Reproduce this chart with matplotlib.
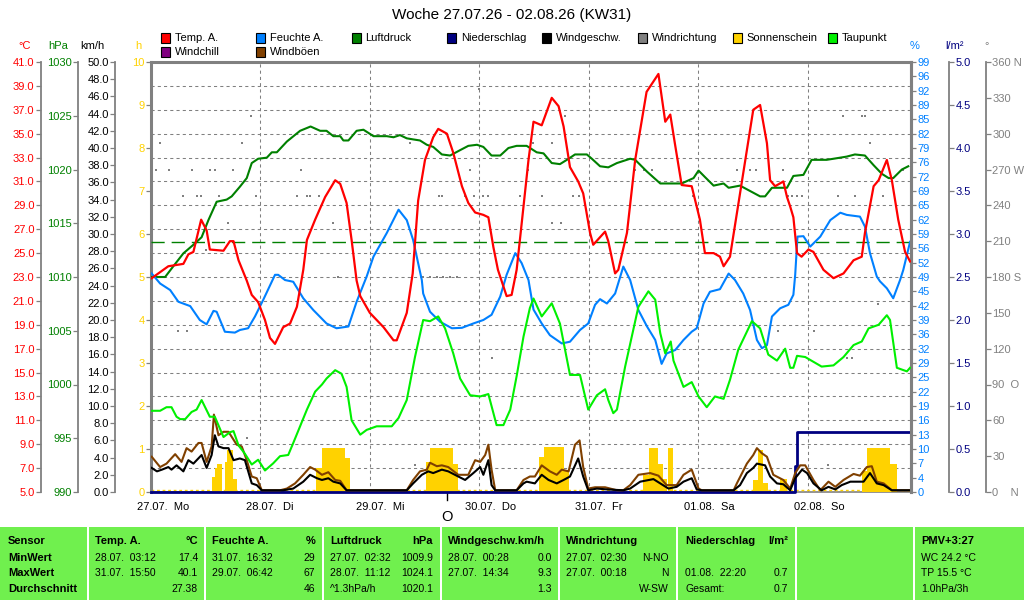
import matplotlib
matplotlib.use("Agg")
import matplotlib.pyplot as plt
import matplotlib.transforms as mtrans
from matplotlib.patches import Rectangle
import numpy as np

plt.rcParams['font.family'] = ['Liberation Sans', 'DejaVu Sans']

# Zeit in Stunden ab 27.07. 00:00
temp_t = [0.15, 3.8, 7.1, 8.2, 9.3, 11.0, 12.2, 12.9, 15.9, 17.3, 18.1, 19.2, 21.0, 22.1, 23.5, 25.0,
          26.1, 27.2, 29.0, 30.5, 32.0, 33.4, 34.2, 36.0, 38.2, 40.4, 41.5, 42.9, 44.0, 45.1, 45.9, 48.0,
          51.0, 53.2, 53.9, 56.1, 57.4, 58.6, 60.1, 61.9, 63.0, 64.9, 66.3, 68.2, 69.6, 71.1, 72.9, 74.0,
          75.1, 76.1, 78.0, 79.1, 80.2, 81.0, 82.8, 83.9, 85.7, 87.9, 89.4, 90.5, 91.9, 93.7, 94.8, 96.3,
          97.0, 99.6, 100.3, 101.8, 102.5, 104.4, 106.2, 108.7, 111.3, 112.8, 113.9, 114.9, 116.4, 118.6,
          120.4, 121.5, 123.4, 124.8, 125.6, 127.0, 129.2, 132.1, 133.6, 135.1, 135.8, 136.9, 138.7, 139.5,
          140.2, 140.9, 141.7, 142.7, 144.2, 145.3, 147.5, 149.7, 151.9, 154.1, 155.9, 156.6, 158.5, 159.6,
          161.4, 162.5, 163.9, 165.4, 166.5]
temp_v = [22.9, 23.9, 24.1, 24.9, 25.1, 27.8, 26.9, 25.3, 25.2, 26.0, 26.0, 24.4, 22.7, 21.5, 20.9, 19.4,
          17.9, 17.4, 18.8, 19.1, 20.5, 23.6, 26.1, 27.8, 29.7, 31.1, 30.8, 29.2, 26.1, 22.7, 21.4, 20.0,
          18.8, 17.7, 17.7, 20.0, 23.3, 29.4, 32.8, 34.7, 35.4, 35.0, 33.4, 30.6, 29.2, 28.4, 28.2, 28.0,
          25.5, 23.6, 21.4, 21.5, 23.6, 26.4, 32.8, 36.0, 35.7, 38.0, 37.3, 35.6, 32.2, 31.0, 30.0, 26.7,
          25.7, 26.8, 26.0, 23.3, 23.6, 26.7, 32.8, 38.5, 40.0, 36.0, 36.6, 34.2, 30.7, 30.6,
          27.8, 25.0, 25.0, 24.7, 23.9, 24.7, 30.0, 37.0, 37.4, 34.2, 31.1, 30.6, 31.0, 29.7,
          28.9, 28.0, 25.0, 24.7, 25.3, 25.1, 23.6, 22.9, 23.3, 24.4, 24.7, 26.7, 30.6, 31.1,
          32.8, 31.1, 27.8, 25.1, 24.3]

rh_t = [0.15, 2.0, 4.2, 6.0, 8.6, 10.7, 12.2, 13.7, 14.4, 16.2, 18.4, 19.5, 21.3, 22.8, 24.6, 27.2, 27.9,
        29.4, 31.2, 33.4, 35.6, 38.5, 40.7, 43.3, 45.1, 47.3, 48.8, 51.7, 54.3, 56.1, 57.5, 59.4, 59.7,
        61.2, 63.4, 66.0, 68.2, 70.7, 72.9, 74.7, 76.6, 78.0, 79.9, 81.3, 82.8, 83.9, 85.7, 87.5, 90.1,
        91.9, 94.1, 95.9, 97.4, 98.5, 100.0, 101.8, 103.6, 105.1, 106.9, 108.8, 110.6, 112.0, 113.1,
        115.0, 116.8, 118.6, 119.7, 121.2, 122.6, 124.8, 126.7, 128.1, 129.9, 131.4, 132.9, 134.0, 135.1,
        136.2, 138.0, 139.8, 140.9, 141.3, 141.8, 143.1, 144.6, 146.8, 149.0, 151.2, 152.6, 155.5, 156.6,
        157.7, 159.2, 159.9, 161.4, 162.8, 164.3, 165.0, 166.5]
rh_v = [50.3, 48.0, 46.5, 43.8, 42.8, 39.6, 38.6, 41.7, 41.5, 36.9, 36.7, 37.3, 37.7, 40.4, 44.2, 50.0, 50.0,
        48.8, 48.4, 44.6, 41.9, 38.8, 37.7, 38.1, 43.8, 49.6, 54.2, 59.6, 65.0, 62.6, 58.0, 48.8, 45.7,
        41.5, 39.2, 37.7, 37.8, 38.8, 39.6, 40.8, 45.0, 50.0, 55.0, 52.7, 48.8, 42.0, 38.8, 36.1, 34.2,
        34.6, 37.3, 38.8, 43.1, 44.4, 43.4, 45.7, 51.9, 48.8, 41.9, 38.1, 35.0, 29.5, 31.9,
        32.7, 35.0, 36.9, 37.7, 43.4, 46.1, 46.7, 50.3, 48.8, 45.7, 41.9, 35.0, 33.1, 33.8,
        40.4, 42.3, 43.1, 45.4, 50.0, 58.8, 58.9, 56.5, 58.8, 62.6, 64.3, 63.8, 63.4, 61.1,
        55.0, 49.6, 48.5, 46.9, 44.6, 48.8, 51.1, 57.6]

p_t = [0.15, 3.1, 4.9, 7.1, 9.3, 11.1, 12.6, 14.4, 16.6, 17.7, 19.5, 21.0, 22.1, 23.5, 25.4, 26.5, 27.6,
       29.8, 32.7, 35.0, 37.1, 38.5, 40.0, 41.5, 42.2, 43.3, 45.1, 46.6, 48.8, 51.7, 53.2, 54.6, 56.1,
       57.5, 59.0, 60.5, 61.9, 63.8, 65.6, 67.8, 69.6, 71.5, 72.9, 74.7, 76.6, 78.4, 80.2, 82.4, 84.6,
       86.1, 87.9, 89.7, 91.6, 93.0, 95.6, 96.7, 98.5, 100.3, 102.2, 105.1, 106.2, 108.8, 111.7, 113.1,
       116.4, 119.0, 120.1, 121.5, 123.4, 125.6, 126.7, 129.2, 131.4, 133.6, 134.7, 136.2, 139.5, 140.9,
       143.1, 144.9, 148.2, 149.7, 152.6, 154.4, 156.6, 158.5, 160.3, 161.8, 162.8, 164.7, 166.1]
p_v = [1010.0, 1010.0, 1011.0, 1012.2, 1013.0, 1013.7, 1015.3, 1017.0, 1017.2, 1017.5, 1018.4, 1019.2,
       1020.6, 1021.0, 1021.1, 1021.6, 1021.6, 1022.6, 1023.6, 1024.0, 1023.6, 1023.6, 1023.1, 1023.1,
       1022.7, 1022.7, 1023.6, 1023.7, 1023.1, 1023.1, 1023.0, 1023.2, 1022.9, 1022.8, 1022.7, 1022.3,
       1022.1, 1021.4, 1021.3, 1021.8, 1022.2, 1022.3, 1022.1, 1021.3, 1021.3, 1022.0, 1022.2, 1022.2,
       1021.6, 1021.5, 1020.6, 1020.5, 1021.0, 1021.4, 1021.4, 1021.0, 1020.3, 1020.2, 1020.6, 1021.0,
       1020.9, 1019.8, 1018.7, 1018.7, 1018.7, 1019.2, 1019.9, 1019.3, 1018.5, 1018.7, 1018.3, 1018.5,
       1018.0, 1017.5, 1017.5, 1018.3, 1018.3, 1019.4, 1019.5, 1020.9, 1020.9, 1021.0, 1021.2, 1021.4,
       1021.3, 1020.4, 1019.6, 1019.2, 1019.2, 1020.0, 1020.3]
p_norm = 1013.25

dp_t = [0.15, 2.0, 3.4, 4.5, 5.6, 6.4, 7.5, 8.9, 10.0, 11.1, 12.9, 14.0, 15.9, 17.3, 18.1, 19.2, 20.6,
        22.1, 23.5, 25.0, 26.8, 28.3, 30.1, 31.2, 32.7, 34.2, 36.0, 37.5, 38.5, 40.4, 41.8, 42.9, 44.0,
        45.9, 47.3, 49.5, 52.8, 54.3, 56.1, 57.9, 59.7, 61.2, 63.0, 64.5, 66.3, 67.8, 70.0, 72.2, 74.0,
        75.8, 77.3, 78.8, 80.2, 81.7, 83.1, 83.9, 85.7, 87.9, 89.7, 91.9, 94.1, 95.9, 97.8, 99.6, 100.3,
        101.4, 102.2, 104.0, 106.9, 109.1, 110.6, 111.7, 112.8, 114.0, 114.6, 116.8, 118.6, 120.1, 121.9,
        123.7, 125.6, 127.0, 128.8, 131.8, 133.6, 135.4, 137.3, 139.1, 140.2, 140.9, 141.7, 143.5, 147.1,
        149.7, 151.9, 154.1, 155.9, 157.4, 159.6, 161.4, 162.1, 163.6, 165.8, 166.5]
dp_v = [11.8, 11.8, 12.1, 12.1, 11.3, 11.1, 11.1, 11.7, 11.9, 12.7, 11.3, 11.3, 9.6, 10.0, 10.1, 8.9, 8.2,
        7.3, 7.7, 6.8, 7.4, 8.0, 8.1, 9.1, 10.5, 11.9, 13.4, 14.0, 14.5, 15.2, 14.9, 13.8, 11.0,
        9.8, 10.2, 10.5, 10.5, 11.2, 12.7, 16.3, 19.4, 19.3, 19.7, 18.7, 16.6, 14.5, 13.1, 13.0, 13.2,
        10.6, 10.6, 11.9, 14.7, 18.0, 20.4, 21.2, 19.7, 20.8, 19.1, 14.8, 14.8, 11.9, 13.1, 13.6, 12.7,
        11.6, 11.9, 15.5, 20.5, 21.8, 21.1, 18.3, 16.6, 17.6, 16.0, 13.8, 14.2, 13.0, 12.1,
        13.0, 12.8, 14.4, 16.9, 19.3, 18.7, 16.5, 16.0, 17.0, 15.4, 15.4, 16.4, 16.3, 15.5,
        15.6, 16.3, 17.3, 17.6, 18.7, 19.0, 19.8, 19.4, 15.4, 15.1, 15.4]

w_t = [0.15, 1.3, 2.4, 3.8, 4.5, 5.6, 7.1, 8.2, 9.3, 11.1, 12.2, 13.3, 14.0, 14.8, 15.9, 17.0, 18.1, 19.5,
       20.6, 22.1, 23.2, 24.3, 29.0, 31.2, 33.4, 34.9, 36.4, 37.5, 38.9, 40.0, 41.5, 42.9, 56.1, 57.5,
       59.4, 60.8, 61.9, 63.8, 65.2, 67.4, 68.9, 70.7, 72.2, 72.9, 74.0, 74.7, 75.5, 80.2, 81.7, 82.4,
       84.2, 85.7, 87.2, 89.0, 90.5, 91.9, 93.7, 94.8, 95.9, 97.8, 100.0, 103.6, 105.1, 107.3, 110.2,
       111.7, 113.5, 115.3, 116.8, 118.6, 119.7, 120.8, 127.8, 129.2, 130.7, 132.1, 132.9, 134.7, 135.8,
       137.3, 138.7, 140.2, 141.3, 142.8, 143.9, 145.3, 147.1, 148.6, 150.1, 151.5, 153.4, 156.3, 157.7,
       159.2, 160.7, 162.5, 166.5]
w_v = [2.8, 2.4, 2.6, 2.9, 2.6, 3.1, 2.4, 3.7, 3.3, 4.3, 2.8, 4.3, 6.6, 5.3, 5.1, 5.1, 3.7, 3.9,
       3.7, 1.0, 0.8, 0.2, 0.2, 0.4, 1.2, 2.0, 1.6, 1.4, 1.6, 1.2, 1.0, 0.2, 0.2, 1.0,
       2.0, 2.4, 2.2, 2.6, 2.4, 1.8, 1.4, 2.2, 2.9, 2.0, 3.7, 0.8, 0.2, 0.2, 1.0, 1.2,
       1.0, 2.0, 1.4, 1.0, 1.4, 1.8, 3.9, 1.8, 0.2, 0.4, 0.3, 0.2, 0.4, 1.2, 1.5,
       1.0, 0.4, 0.6, 1.2, 1.6, 0.3, 0.2, 0.2, 0.8, 2.2, 2.8, 3.3, 3.1, 1.8,
       1.0, 0.9, 0.2, 1.6, 2.6, 2.2, 1.0, 0.2, 0.6, 0.3, 0.8, 1.2, 1.2, 2.2,
       1.0, 0.8, 0.2, 0.2]

g_t = [0.15, 2.0, 3.4, 5.3, 6.7, 7.8, 8.9, 10.4, 11.1, 12.2, 13.3, 13.8, 14.8, 15.9, 17.0, 18.8, 19.9,
       21.0, 22.1, 23.2, 24.3, 28.3, 29.8, 31.6, 33.4, 34.9, 36.0, 37.5, 38.9, 40.4, 41.5, 42.9, 56.1,
       57.5, 59.0, 60.5, 61.2, 62.7, 63.8, 65.2, 67.4, 69.6, 71.1, 72.2, 73.3, 74.0, 74.7, 75.5, 80.2,
       81.7, 83.1, 84.2, 85.7, 87.5, 89.0, 90.1, 91.6, 93.0, 94.0, 94.8, 95.9, 97.4, 99.6, 102.2, 103.6,
       105.1, 106.9, 109.5, 111.3, 113.1, 115.3, 116.8, 118.6, 120.1, 120.8, 127.8, 128.5, 130.7, 132.1,
       132.9, 134.0, 135.1, 136.5, 138.7, 140.2, 141.3, 142.4, 143.5, 145.3, 146.8, 148.6, 150.1, 151.9,
       154.1, 155.5, 157.0, 158.1, 159.2, 160.7, 162.5, 166.5]
g_v = [4.1, 2.9, 3.3, 4.4, 3.5, 5.1, 4.7, 5.7, 5.7, 3.5, 5.3, 9.0, 6.6, 7.0, 7.0, 5.5, 5.3,
       3.7, 1.8, 1.6, 0.2, 0.2, 0.4, 1.0, 2.0, 2.9, 2.6, 2.0, 2.3, 1.4, 1.3, 0.2, 0.2,
       1.4, 2.4, 2.6, 3.4, 3.0, 3.1, 2.9, 2.0, 2.0, 3.7, 3.5, 4.3, 5.5, 2.6, 0.2, 0.2,
       1.4, 1.8, 1.8, 3.1, 2.4, 2.0, 2.6, 2.4, 5.5, 6.0, 2.9, 0.4, 0.55, 0.55, 0.2, 0.2,
       0.8, 2.0, 2.2, 1.9, 0.8, 0.8, 2.0, 2.6, 0.4, 0.2, 0.2, 1.0, 3.3, 4.3,
       5.1, 4.5, 4.1, 2.0, 1.4, 0.4, 2.2, 3.1, 3.1, 1.4, 0.2, 1.2, 0.6, 1.4,
       2.1, 1.9, 2.9, 3.0, 1.2, 1.0, 0.2, 0.2]

sun_start = [13.4, 14.0, 14.4, 16.2, 16.7, 18.0, 36.2, 37.4, 42.6, 60.3, 61.2, 66.3, 85.0, 86.1, 90.5,
             108.0, 109.3, 111.3, 112.4, 113.3, 132.1, 133.2, 134.3, 138.0, 155.9, 157.0, 162.1]
sun_end = [14.0, 14.4, 15.5, 16.7, 18.0, 18.8, 37.4, 42.6, 43.7, 61.2, 66.3, 67.4, 86.1, 90.5, 91.6,
           109.3, 111.3, 112.4, 113.1, 114.5, 133.2, 134.3, 135.4, 139.5, 157.0, 162.1, 163.6]
sun_val = [0.36, 0.55, 0.64, 0.7, 0.98, 0.3, 0.55, 1.02, 0.8, 0.7, 1.02, 0.66, 0.82, 1.04, 0.5,
           0.4, 1.02, 0.66, 0.3, 1.02, 0.28, 0.98, 0.2, 0.3, 0.5, 1.02, 0.66]

rain_t = [0.0, 141.3, 141.8, 166.7]
rain_v = [0.0, 0.3, 0.7, 0.7]

dir_t = [1.0, 2.0, 4.0, 5.9, 7.0, 7.8, 8.9, 10.1, 11.0, 12.1, 12.9, 14.0, 14.9, 16.9, 17.9, 19.9, 21.0,
         21.9, 23.0, 32.0, 32.9, 34.2, 34.9, 36.9, 39.9, 41.0, 56.8, 57.9, 59.7, 61.2, 62.7, 64.1, 65.6,
         67.1, 63.2, 63.8, 68.9, 70.0, 70.9, 72.0, 72.9, 74.0, 74.7, 81.0, 82.6, 83.8, 85.7, 87.9, 87.9,
         89.9, 90.8, 92.6, 93.9, 106.2, 108.2, 110.0, 118.8, 128.6, 131.4, 132.7, 137.6, 138.7, 139.8,
         140.6, 141.7, 142.8, 145.5, 148.5, 150.7, 151.8, 152.6, 153.7, 154.4, 155.9, 156.6, 157.7,
         159.5, 160.6, 165.0]
dir_v = [270, 292.5, 270, 135, 247.5, 135, 270, 247.5, 247.5, 202.5, 270, 270, 247.5, 225, 270, 292.5, 45,
         315, 247.5, 247.5, 270, 247.5, 247.5, 247.5, 225, 180, 292.5, 22.5, 180, 180, 180, 180, 180,
         180, 247.5, 247.5, 247.5, 270, 247.5, 337.5, 247.5, 247.5, 112.5, 247.5, 270, 292.5, 247.5,
         292.5, 225, 225, 315, 247.5, 247.5, 270, 270, 270, 247.5, 270, 270, 270, 135, 270, 247.5,
         247.5, 247.5, 247.5, 135, 22.5, 247.5, 315, 112.5, 112.5, 247.5, 315, 315, 292.5,
         157.5, 247.5, 270]

moon_t = 64.9

day_ticks = [0, 24, 48, 72, 96, 120, 144]
day_labels = ['27.07.  Mo', '28.07.  Di', '29.07.  Mi', '30.07.  Do', '31.07.  Fr', '01.08.  Sa', '02.08.  So']

rh_labels = ['0', '4', '7', '10', '13', '16', '19', '22', '25', '29', '32', '36', '39', '42', '45', '49',
             '52', '56', '59', '62', '65', '69', '72', '76', '79', '82', '85', '89', '92', '96', '99']
dir_labels = ['0    N', '30', '60', '90  O', '120', '150', '180 S', '210', '240', '270 W', '300', '330', '360 N']

legend_names = ['Temp. A.', 'Feuchte A.', 'Luftdruck', 'Niederschlag', 'Windgeschw.', 'Windrichtung',
                'Sonnenschein', 'Taupunkt', 'Windchill', 'Windböen']

table_first = ['Sensor', 'MinWert', 'MaxWert', 'Durchschnitt']
table_heads = [('Temp. A.', '°C'), ('Feuchte A.', '%'), ('Luftdruck', 'hPa'),
               ('Windgeschw.km/h', ''), ('Windrichtung', ''), ('Niederschlag', 'l/m²')]
table_dates = [['28.07.  03:12', '31.07.  15:50', ''], ['31.07.  16:32', '29.07.  06:42', ''],
               ['27.07.  02:32', '28.07.  11:12', '^1.3hPa/h'], ['28.07.  00:28', '27.07.  14:34', ''],
               ['27.07.  02:30', '27.07.  00:18', ''], ['', '01.08.  22:20', 'Gesamt:']]
table_vals = [['17.4', '40.1', '27.38'], ['29', '67', '46'], ['1009.9', '1024.1', '1020.1'],
              ['0.0', '9.3', '1.3'], ['N-NO', 'N', 'W-SW'], ['', '0.7', '0.7']]
table_last = ['PMV+3:27', 'WC 24.2 °C', 'TP 15.5 °C', '1.0hPa/3h']

RED = '#FF0000'
BLUE = '#0080FF'
GREEN = '#008000'
NAVY = '#000080'
GRAY = '#808080'
SUN = '#FFD200'
LIME = '#00F000'
PURPLE = '#800080'
BROWN = '#804000'
TABLE_GREEN = '#70F04E'
legend_colors = [RED, BLUE, GREEN, NAVY, 'black', GRAY, SUN, LIME, PURPLE, BROWN]

W, H = 1024, 600
fig = plt.figure(figsize=(W / 100, H / 100), dpi=100)


def fx(px):
    return px / W


def fy(py):
    return 1 - py / H


L, R, T, B = 151, 911, 62, 492
X_END = 166.7


def apos(px):
    return (px - L) / (R - L)


ax = fig.add_axes([fx(L), fy(B), (R - L) / W, (B - T) / H])
ax.set_xlim(0, X_END)
ax.set_ylim(5, 41)
temp_ticks = np.arange(5, 42, 2)
ax.set_yticks(temp_ticks)
ax.set_yticklabels(['%.1f' % v for v in temp_ticks])
ax.tick_params(axis='y', direction='out', length=3.5, width=0.9, color=GRAY,
               labelcolor=RED, labelsize=8, pad=1)
ax.spines['left'].set_position(('axes', apos(40.7)))
ax.spines['left'].set_color(GRAY)
ax.spines['left'].set_linewidth(1.3)
for s in ['top', 'right']:
    ax.spines[s].set_color(GRAY)
    ax.spines[s].set_linewidth(2.2)
ax.spines['bottom'].set_color(GRAY)
ax.spines['bottom'].set_linewidth(1.2)
ax.set_xticks(day_ticks)
ax.set_xticklabels(day_labels)
ax.tick_params(axis='x', length=0, pad=7, labelsize=8)
offset = mtrans.ScaledTranslation(-14 / 100, 0, fig.dpi_scale_trans)
for lbl in ax.get_xticklabels():
    lbl.set_horizontalalignment('left')
    lbl.set_transform(lbl.get_transform() + offset)
ax.grid(True, color=GRAY, linewidth=0.75, linestyle=(0, (3, 3)))

xt = ax.get_xaxis_transform()
ax.plot([moon_t, moon_t], [0, -8 / 430], transform=xt, color='black', lw=1, clip_on=False)
ax.text(moon_t, -25 / 430, 'O', transform=xt, ha='center', va='center', fontsize=10.5)


def make_axis(side, pos, lo, hi, ticks=None, labels=None, color='black', spine_lw=1.3):
    a = ax.twinx()
    a.set_ylim(lo, hi)
    for s in a.spines.values():
        s.set_visible(False)
    if side is None:
        a.set_yticks([])
        return a
    sp = a.spines[side]
    sp.set_visible(True)
    sp.set_position(('axes', pos))
    sp.set_color(GRAY)
    sp.set_linewidth(spine_lw)
    a.yaxis.set_ticks_position(side)
    a.set_yticks(ticks)
    a.set_yticklabels(labels)
    a.tick_params(axis='y', direction='out', length=3.5, width=0.9, color=GRAY,
                  labelcolor=color, labelsize=8, pad=1)
    return a


# Sonnenschein
ax_h = make_axis('left', 0.0, 0, 10, range(11), [str(i) for i in range(11)], SUN, spine_lw=2.2)
ax_h.bar(sun_start, sun_val, width=np.array(sun_end) - np.array(sun_start), align='edge',
         color=SUN, linewidth=0)
ax_h.plot([0, X_END], [0.04, 0.04], color=SUN, lw=1, dashes=(2, 2))

# Windrichtung
ax_d = make_axis('right', apos(986), 0, 360, range(0, 361, 30), dir_labels, GRAY)
ax_d.plot(dir_t, dir_v, ls='none', marker='s', ms=1.7, mew=0, color=GRAY)

# Niederschlag
rain_ticks = np.arange(0, 5.01, 0.5)
ax_r = make_axis('right', apos(949), 0, 5, rain_ticks, ['%.1f' % v for v in rain_ticks], NAVY)
ax_r.plot(rain_t, rain_v, drawstyle='steps-post', color=NAVY, lw=2, clip_on=False)

# Wind
wind_ticks = np.arange(0, 50.1, 2)
ax_w = make_axis('left', apos(115), 0, 50, wind_ticks, ['%.1f' % v for v in wind_ticks], 'black')
ax_w.plot(g_t, g_v, color=BROWN, lw=1.5)
ax_w.plot(w_t, w_v, color='black', lw=1.5)

# Luftdruck
p_ticks = range(990, 1031, 5)
ax_p = make_axis('left', apos(77.7), 990, 1030, p_ticks, [str(v) for v in p_ticks], GREEN)
ax_p.axhline(p_norm, color=GREEN, lw=1, dashes=(9.5, 5))
ax_p.plot(p_t, p_v, color=GREEN, lw=1.5)

# Feuchte
ax_rh = make_axis('right', 1.0, 0, 99, np.linspace(0, 99, 31), rh_labels, BLUE, spine_lw=2.2)
ax_rh.plot(rh_t, rh_v, color=BLUE, lw=1.5)

# Taupunkt und Temperatur
ax_dp = make_axis(None, 0, 5, 41)
ax_dp.plot(dp_t, dp_v, color=LIME, lw=1.5)
ax_t = make_axis(None, 0, 5, 41)
ax_t.plot(temp_t, temp_v, color=RED, lw=1.6)

# Titel, Einheiten, Legende
fig.text(fx(512), fy(15), 'Woche 27.07.26 - 02.08.26 (KW31)', ha='center', va='center', fontsize=11)
units = [('°C', 25, RED), ('hPa', 58, GREEN), ('km/h', 92, 'black'), ('h', 138, SUN),
         ('%', 915, BLUE), ('l/m²', 955, NAVY), ('°', 987, GRAY)]
for txt, px, col in units:
    fig.text(fx(px), fy(46), txt, ha='center', va='center', fontsize=8, color=col)

for i, (name, col) in enumerate(zip(legend_names, legend_colors)):
    row, c = divmod(i, 8)
    x0 = 161 + c * 95.3
    yc = 38 + row * 14
    fig.patches.append(Rectangle((fx(x0), fy(yc + 4.5)), 9 / W, 9 / H, transform=fig.transFigure,
                                 facecolor=col, edgecolor='black', lw=0.8))
    fig.text(fx(x0 + 14), fy(yc), name, ha='left', va='center', fontsize=8)

# Tabelle
TABLE_TOP = 527
col_edges = [(0, 87), (89, 204), (206, 322), (324, 440), (442, 558), (560, 676),
             (678, 795), (797, 913), (915, 1024)]
for a, b in col_edges:
    fig.patches.append(Rectangle((fx(a), 0), (b - a) / W, (H - TABLE_TOP) / H,
                                 transform=fig.transFigure, facecolor=TABLE_GREEN, edgecolor='none'))

row_y = [541.5, 558, 573.5, 589]
table_x = [(95, 198), (212, 315), (330, 433), (448, 552), (566, 669), (685, 788)]

for j, txt in enumerate(table_first):
    fig.text(fx(8), fy(row_y[j]), txt, ha='left', va='center', fontsize=8, fontweight='bold')
for (xl, xr), (head, unit), dates, vals in zip(table_x, table_heads, table_dates, table_vals):
    fig.text(fx(xl), fy(row_y[0]), head, ha='left', va='center', fontsize=8, fontweight='bold')
    fig.text(fx(xr), fy(row_y[0]), unit, ha='right', va='center', fontsize=8, fontweight='bold')
    for j in range(3):
        fig.text(fx(xl), fy(row_y[j + 1]), dates[j], ha='left', va='center', fontsize=7.5)
        fig.text(fx(xr), fy(row_y[j + 1]), vals[j], ha='right', va='center', fontsize=7.5)
for j, txt in enumerate(table_last):
    fig.text(fx(921), fy(row_y[j]), txt, ha='left', va='center', fontsize=8 if j == 0 else 7.5,
             fontweight='bold' if j == 0 else 'normal')

fig.savefig('out.png', dpi=100)
